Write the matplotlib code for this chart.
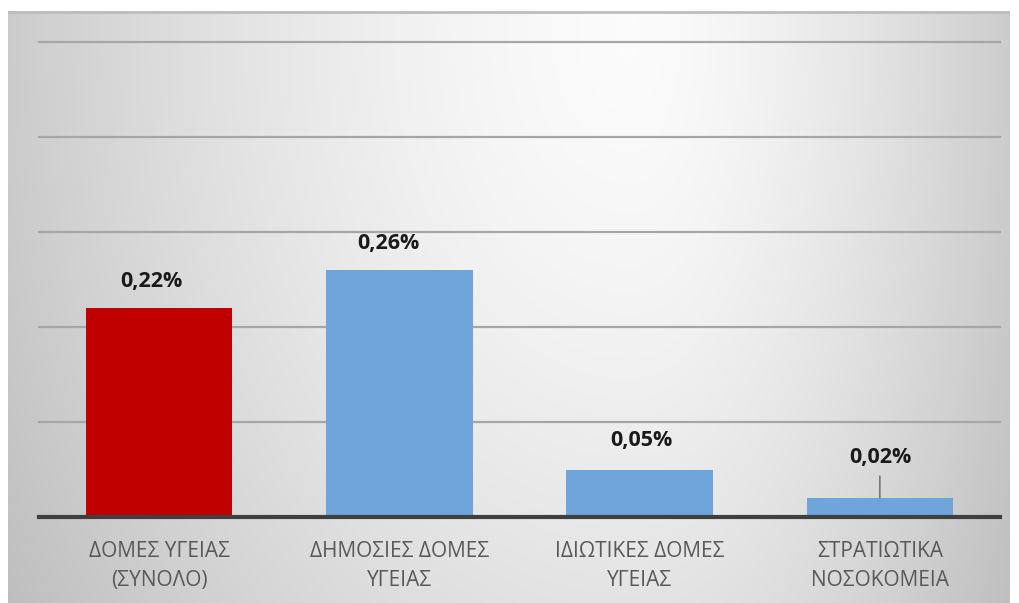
import numpy as np
import matplotlib
matplotlib.use("Agg")
import matplotlib.pyplot as plt

# Share of records by type of health facility (%)
categories = ["ΔΟΜΕΣ ΥΓΕΙΑΣ\n(ΣΥΝΟΛΟ)", "ΔΗΜΟΣΙΕΣ ΔΟΜΕΣ\nΥΓΕΙΑΣ",
              "ΙΔΙΩΤΙΚΕΣ ΔΟΜΕΣ\nΥΓΕΙΑΣ", "ΣΤΡΑΤΙΩΤΙΚΑ\nΝΟΣΟΚΟΜΕΙΑ"]
values = [0.22, 0.26, 0.05, 0.02]
value_labels = ["0,22%", "0,26%", "0,05%", "0,02%"]

bar_colors = ["#c00000", "#6fa5da", "#6fa5da", "#6fa5da"]
# label placement: (dx px, dy px above bar top), and whether a leader line is drawn
label_offsets = [(-8, 27), (-11, 27), (2, 29), (0, 40)]
leader = [False, False, False, True]

W, H = 1019, 603
PT = 0.72  # points per pixel at 100 dpi
fig = plt.figure(figsize=(W / 100, H / 100), dpi=100)
fig.patch.set_facecolor("white")

# chart-area background with a soft radial gradient
top = 1 - 11 / H
bg = fig.add_axes([8 / W, 0, (1010 - 8) / W, top], zorder=0)
bg.set_facecolor("#d2d2d2")
nx, ny = 500, 300
xs = np.linspace(0, 1, nx)
ys = np.linspace(0, 1, ny)
X, Y = np.meshgrid(xs, ys)
cx, cy = 0.62, 0.05
dx = np.where(X < cx, (X - cx) / cx, (X - cx) / (1 - cx))
dy = (Y - cy) / 1.5
r = np.sqrt(dx ** 2 + dy ** 2)
val = np.clip(0.985 - 0.19 * r ** 1.5, 0, 1)
bg.imshow(np.dstack([val, val, val]), extent=[-0.01, 1.01, 1.02, -0.01],
          aspect="auto", interpolation="bilinear")
bg.plot([0, 1], [0.998, 0.998], color="#bdbdbd", lw=2, transform=bg.transAxes)
bg.set_xlim(0, 1)
bg.set_ylim(1, 0)
bg.set_xticks([])
bg.set_yticks([])
for s in bg.spines.values():
    s.set_visible(False)

ax = fig.add_axes([39 / W, 1 - 517 / H, (1000 - 39) / W, (517 - 42) / H], zorder=1)
ax.patch.set_alpha(0)
x = np.arange(len(categories))
ax.set_xlim(-0.5, len(categories) - 0.5)
ax.set_ylim(0, 0.5)

for yv in [0.1, 0.2, 0.3, 0.4, 0.5]:
    ax.axhline(yv, color="#a6a6a6", lw=1.6, zorder=1, clip_on=False)

ax.bar(x, values, width=0.61, color=bar_colors, zorder=2)
ax.axhline(0, color="#3f3f3f", lw=3, zorder=3, clip_on=False)

for xi, v, lab, (ddx, ddy), ld in zip(x, values, value_labels, label_offsets, leader):
    ax.annotate(lab, (xi, v), xytext=(ddx * PT, ddy * PT),
                textcoords="offset points", ha="center", va="center",
                fontsize=15.5, fontweight="bold", color="#1a1a1a",
                family="Open Sans", zorder=4)
    if ld:
        ax.annotate("", (xi, v), xytext=(0, 22 * PT), textcoords="offset points",
                    arrowprops=dict(arrowstyle="-", color="#595959", lw=0.9,
                                    shrinkA=0, shrinkB=0), zorder=4)

ax.set_xticks(x)
ax.set_xticklabels(categories, fontsize=15, color="#595959", family="Open Sans",
                   linespacing=1.5)
ax.tick_params(axis="x", length=0, pad=17)
ax.set_yticks([])
for s in ax.spines.values():
    s.set_visible(False)

fig.savefig("out.png", dpi=100)
